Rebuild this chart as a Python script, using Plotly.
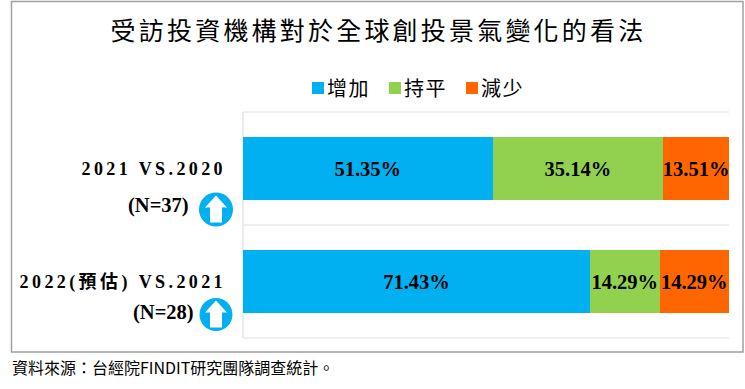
import plotly.graph_objects as go

W, H = 745, 389
categories = ["2021 VS.2020", "2022(預估) VS.2021"]
series_names = ["增加", "持平", "減少"]
increase = [51.35, 71.43]
flat = [35.14, 14.29]
decrease = [13.51, 14.29]
sample_labels = ["(N=37)", "(N=28)"]
colors = ["#00B0F0", "#92D050", "#FF6600"]
title = "受訪投資機構對於全球創投景氣變化的看法"
source = "資料來源：台經院FINDIT研究團隊調查統計。"

SERIF = "Liberation Serif, Noto Sans CJK TC, serif"
CJK = "Noto Sans CJK TC, sans-serif"
L, R, T, B = 243, 729, 112, 338


def py(y):
    return 1 - y / H


def pxp(x):
    return (x - L) / (R - L)


def pyp(y):
    return (B - y) / (B - T)


fig = go.Figure()
for name, vals, col in zip(series_names, [increase, flat, decrease], colors):
    fig.add_trace(go.Bar(
        name=name, y=categories, x=vals, orientation="h", marker=dict(color=col, line=dict(width=0)),
        text=[f"{v:.2f}%" for v in vals], textposition="inside", insidetextanchor="middle",
        textangle=0, constraintext="none", cliponaxis=False,
        textfont=dict(family=SERIF, size=20.5, color="#000000", weight="bold"),
        hoverinfo="skip",
    ))

shapes = []
# chart frame
shapes.append(dict(type="rect", xref="paper", yref="paper", x0=pxp(11.5), x1=pxp(743), y0=pyp(1.5), y1=pyp(352),
                   line=dict(color="#A0A0A0", width=1.5), layer="below"))
# category separators and value axis line
for yy in (T, (T + B) / 2, B):
    shapes.append(dict(type="line", xref="paper", yref="paper", x0=0, x1=1, y0=pyp(yy), y1=pyp(yy),
                       line=dict(color="#E0E0E0", width=1.2), layer="below"))
shapes.append(dict(type="line", xref="paper", yref="paper", x0=0, x1=0, y0=0, y1=1,
                   line=dict(color="#E0E0E0", width=1.2), layer="below"))
# up-arrow badges
for cx, cy, r in ((216, 209.5, 17), (216, 314.5, 16.5)):
    shapes.append(dict(type="circle", xref="paper", yref="paper",
                       x0=pxp(cx - r), x1=pxp(cx + r), y0=pyp(cy - r), y1=pyp(cy + r),
                       fillcolor="#00B0F0", line=dict(width=0)))
    pts = [(cx, cy - 14), (cx + 11, cy - 2), (cx + 6, cy - 2), (cx + 6, cy + 13),
           (cx - 6, cy + 13), (cx - 6, cy - 2), (cx - 11, cy - 2)]
    path = "M" + "L".join(f"{pxp(a):.5f},{pyp(b):.5f}" for a, b in pts) + "Z"
    shapes.append(dict(type="path", xref="paper", yref="paper", path=path,
                       fillcolor="#FFFFFF", line=dict(width=0)))

annotations = [
    dict(text=sample_labels[0], xref="paper", yref="paper", x=pxp(191), y=pyp(205), xanchor="right", yanchor="middle",
         showarrow=False, font=dict(family=SERIF, size=20.5, color="#000000", weight="bold")),
    dict(text=sample_labels[1], xref="paper", yref="paper", x=pxp(196), y=pyp(312), xanchor="right", yanchor="middle",
         showarrow=False, font=dict(family=SERIF, size=20.5, color="#000000", weight="bold")),
    dict(text=source, xref="paper", yref="paper", x=pxp(10), y=pyp(367), xanchor="left", yanchor="middle",
         showarrow=False, font=dict(family=CJK, size=16, color="#000000")),
]

fig.update_layout(
    width=W, height=H, autosize=False,
    margin=dict(l=L, r=W - R, t=T, b=H - B),
    paper_bgcolor="#FFFFFF", plot_bgcolor="#FFFFFF",
    barmode="stack", bargap=0.44, showlegend=True,
    title=dict(text=title, font=dict(family=CJK, size=25, color="#000000"), x=(113 + 644) / 2 / W, xanchor="center",
               y=py(31), yanchor="middle"),
    legend=dict(orientation="h", x=pxp(298), xanchor="left", y=pyp(88), yanchor="middle", traceorder="normal",
                font=dict(family=CJK, size=20, color="#000000"), itemwidth=30, bgcolor="rgba(0,0,0,0)",
                entrywidth=32, entrywidthmode="pixels"),
    xaxis=dict(range=[0, 100.02], showgrid=False, zeroline=False, showticklabels=False, showline=False, ticks=""),
    yaxis=dict(autorange="reversed", showgrid=False, zeroline=False, showline=False, ticks="", ticklen=0,
               tickfont=dict(family=SERIF, size=18, color="#000000", weight="bold"), automargin=False, ticklabelstandoff=16),
    shapes=shapes, annotations=annotations,
)

css = """
html,body{margin:0;padding:0;overflow:hidden}
.ytick text{letter-spacing:3.4px}
.gtitle{letter-spacing:3.2px}
.legendtext{letter-spacing:1.5px;transform:translateX(-11px)}
"""
post = "var s=document.createElement('style');s.textContent=%r;document.head.appendChild(s);" % css
fig.write_html("out.html", post_script=post, config=dict(displayModeBar=False))
